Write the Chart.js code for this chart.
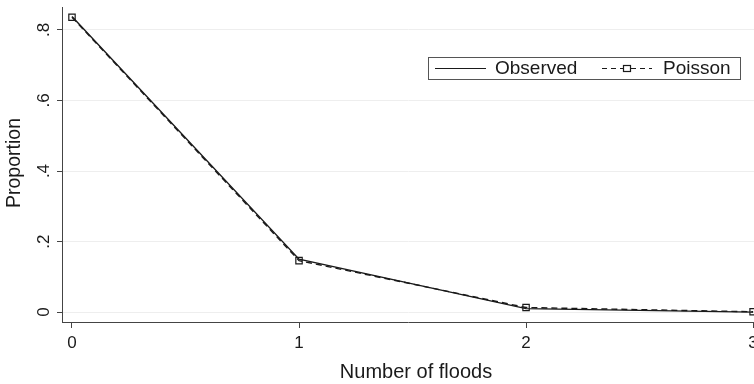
<!DOCTYPE html>
<html>
<head>
<meta charset="utf-8">
<script src="https://cdn.jsdelivr.net/npm/chart.js@4"></script>
<style>
  html, body { margin: 0; padding: 0; background: #fff; }
  #wrap { width: 754px; height: 384px; }
</style>
</head>
<body>
<div id="wrap"><canvas id="graph" width="754" height="384"></canvas></div>
<script>
const floods = [0, 1, 2, 3];
const observed = [0.838, 0.150, 0.010, 0.000];
const poisson = [0.836, 0.146, 0.013, 0.001];
const yTicks = [0, 0.2, 0.4, 0.6, 0.8];
const yTickLabels = ['0', '.2', '.4', '.6', '.8'];
const xTickLabels = ['0', '1', '2', '3'];

const FONT = '"Liberation Sans", Arial, sans-serif';
const INK = '#1a1a1a';

// stata style extras: tick labels, axis titles, boxed legend
const stataPlugin = {
    id: 'stata',
    afterDraw(c) {
        const ctx = c.ctx;
        const x = c.scales.x;
        const y = c.scales.y;
        ctx.save();
        ctx.fillStyle = INK;
        ctx.font = '17px ' + FONT;
        ctx.textAlign = 'center';
        ctx.textBaseline = 'middle';
        yTicks.forEach(function (v, i) {
            ctx.save();
            ctx.translate(44, y.getPixelForValue(v));
            ctx.rotate(-Math.PI / 2);
            ctx.fillText(yTickLabels[i], 0, 0);
            ctx.restore();
        });
        floods.forEach(function (v, i) {
            ctx.fillText(xTickLabels[i], x.getPixelForValue(v), 343);
        });

        ctx.font = '19.5px ' + FONT;
        ctx.save();
        ctx.translate(15, 163);
        ctx.rotate(-Math.PI / 2);
        ctx.fillText('Proportion', 0, 0);
        ctx.restore();

        ctx.font = '20px ' + FONT;
        ctx.fillText('Number of floods', 416, 372);

        // legend
        ctx.strokeStyle = '#555';
        ctx.lineWidth = 1;
        ctx.strokeRect(428.5, 57.5, 312, 22);
        ctx.textAlign = 'left';
        ctx.font = '19px ' + FONT;
        ctx.strokeStyle = INK;
        ctx.lineWidth = 1.2;
        ctx.beginPath();
        ctx.moveTo(435, 68.5);
        ctx.lineTo(486, 68.5);
        ctx.stroke();
        ctx.fillText('Observed', 495, 69);

        ctx.setLineDash([5, 4]);
        ctx.beginPath();
        ctx.moveTo(602, 68.5);
        ctx.lineTo(623, 68.5);
        ctx.moveTo(631, 68.5);
        ctx.lineTo(652, 68.5);
        ctx.stroke();
        ctx.setLineDash([]);
        ctx.strokeRect(623.5, 65.5, 7, 6);
        ctx.fillText('Poisson', 663, 69);
        ctx.restore();
    }
};

let chart = new Chart(document.getElementById('graph'), {
    type: 'line',
    data: {
        datasets: [{
            label: 'Observed',
            data: floods.map((f, i) => ({ x: f, y: observed[i] })),
            borderColor: INK,
            borderWidth: 1.4,
            pointRadius: 0,
            fill: false,
            tension: 0
        }, {
            label: 'Poisson',
            data: floods.map((f, i) => ({ x: f, y: poisson[i] })),
            borderColor: INK,
            borderWidth: 1.4,
            borderDash: [6, 4],
            pointStyle: 'rect',
            pointRadius: 4.5,
            pointBorderWidth: 1.2,
            pointBorderColor: INK,
            pointBackgroundColor: 'rgba(0,0,0,0)',
            fill: false,
            tension: 0,
            clip: false
        }]
    },
    options: {
        responsive: false,
        animation: false,
        layout: { autoPadding: false, padding: { top: 7, left: 0, right: 0, bottom: 0 } },
        plugins: {
            legend: { display: false },
            tooltip: { enabled: false }
        },
        scales: {
            x: {
                type: 'linear',
                min: -0.044,
                max: 3.004,
                afterFit: function (s) { s.height = 62; s.paddingLeft = 0; s.paddingRight = 0; },
                afterBuildTicks: function (s) { s.ticks = floods.map(v => ({ value: v })); },
                border: { display: true, color: '#444', width: 1 },
                grid: { drawOnChartArea: false, drawTicks: true, tickLength: 6, tickColor: '#444' },
                ticks: { display: false }
            },
            y: {
                min: -0.028,
                max: 0.865,
                afterFit: function (s) { s.width = 62; s.paddingTop = 0; s.paddingBottom = 0; },
                afterBuildTicks: function (s) { s.ticks = yTicks.map(v => ({ value: v })); },
                border: { display: true, color: '#444', width: 1 },
                grid: { color: '#eeeeee', lineWidth: 1, drawTicks: true, tickLength: 5, tickColor: '#444' },
                ticks: { display: false }
            }
        }
    },
    plugins: [stataPlugin]
});
</script>
</body>
</html>
